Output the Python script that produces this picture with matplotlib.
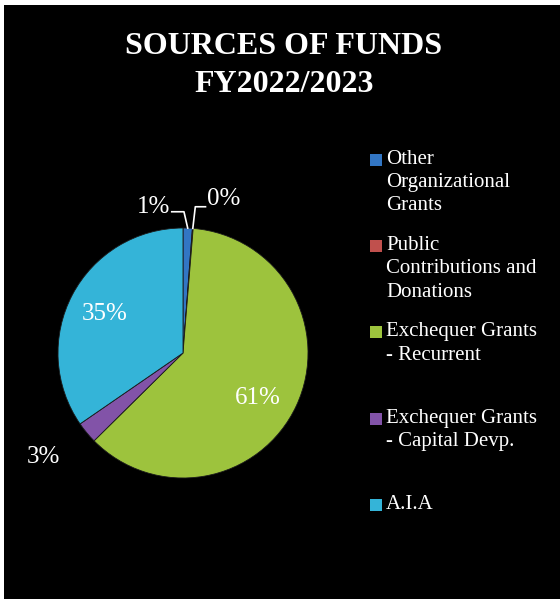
import numpy as np
import matplotlib
matplotlib.use("Agg")
import matplotlib.pyplot as plt
from matplotlib.patches import Rectangle

# sources of funds, share of total (%)
sources = ["Other\nOrganizational\nGrants",
           "Public\nContributions and\nDonations",
           "Exchequer Grants\n- Recurrent",
           "Exchequer Grants\n- Capital Devp.",
           "A.I.A"]
shares = [1.2, 0.1, 61.3, 2.8, 34.6]
colors = ["#3276C4", "#C0504D", "#9DC33D", "#8253A8", "#34B4D8"]

plt.rcParams['font.family'] = ['Liberation Serif', 'DejaVu Serif']

W, H = 560, 601
fig = plt.figure(figsize=(W / 100, H / 100), dpi=100, facecolor="white")

# black panel inside a thin white margin
fig.patches.append(Rectangle((4 / W, 2 / H), (W - 4) / W, (H - 7) / H,
                             transform=fig.transFigure, facecolor="black",
                             edgecolor="none", zorder=-10))

fig.text(284 / W, 1 - 46 / H, "SOURCES OF FUNDS", color="white",
         fontsize=23, fontweight="bold", ha="center", va="center")
fig.text(284 / W, 1 - 84 / H, "FY2022/2023", color="white",
         fontsize=23, fontweight="bold", ha="center", va="center")

# pie centred at (183, 353) px, radius 125 px
cx, cy, r = 183, 353, 125
ax = fig.add_axes([(cx - r) / W, (H - cy - r) / H, 2 * r / W, 2 * r / H])
ax.set_facecolor("none")
wedges, texts, autotexts = ax.pie(
    shares, colors=colors, startangle=90, counterclock=False,
    autopct=lambda p: "%d%%" % round(p), pctdistance=0.7,
    wedgeprops=dict(edgecolor="#1a1a1a", linewidth=0.6),
    textprops=dict(color="white", fontsize=18))
ax.set_xlim(-1, 1)
ax.set_ylim(-1, 1)
ax.set_aspect("equal")
ax.axis("off")

autotexts[2].set_position((0.6, -0.36))
autotexts[4].set_position((-0.63, 0.31))

# small slices: labels outside
autotexts[3].set_position((-1.12, -0.83))
autotexts[3].set_ha("center")


def mid_point(w):
    a = np.deg2rad((w.theta1 + w.theta2) / 2)
    return np.cos(a), np.sin(a)


x0, y0 = mid_point(wedges[0])
ax.plot([x0, x0 - 0.03, -0.09], [y0, 1.13, 1.13], color="white", lw=1.2,
        clip_on=False)
autotexts[0].set_position((-0.1, 1.17))
autotexts[0].set_ha("right")

x1, y1 = mid_point(wedges[1])
ax.plot([x1, x1 + 0.02, 0.18], [y1, 1.17, 1.17], color="white", lw=1.2,
        clip_on=False)
autotexts[1].set_position((0.19, 1.23))
autotexts[1].set_ha("left")

# legend with evenly spaced entries
for i, (name, c) in enumerate(zip(sources, colors)):
    ty = 160 + i * 86.2
    fig.patches.append(Rectangle((370 / W, 1 - (ty + 6) / H), 12 / W, 12 / H,
                                 transform=fig.transFigure, facecolor=c,
                                 edgecolor="none", zorder=2))
    fig.text(386 / W, 1 - (ty - 10) / H, name, color="white", fontsize=15,
             ha="left", va="top", linespacing=1.3)

fig.savefig("out.png", dpi=100, facecolor="white")
